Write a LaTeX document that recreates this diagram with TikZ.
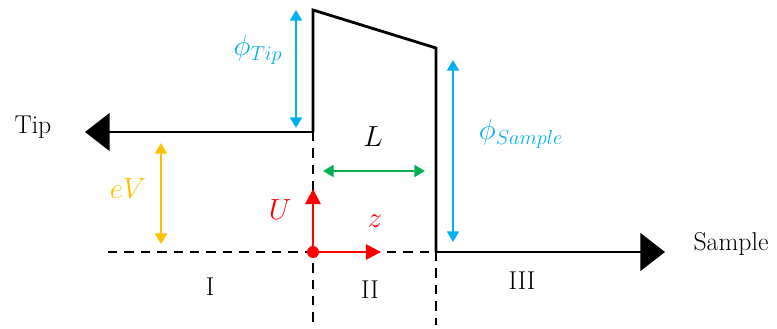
\documentclass[tikz,border=0pt]{standalone}
\usepackage{tikz}
\usetikzlibrary{
    arrows.meta,
    positioning,
    calc
}
\definecolor{phiblue}{RGB}{0,176,240}
\definecolor{evorange}{RGB}{255,192,0}
\definecolor{lgreen}{RGB}{0,176,80}
\definecolor{ured}{RGB}{255,0,0}

\begin{document}
\begin{tikzpicture}[
        x=0.03cm,
        y=-0.03cm,
        line cap=butt,
        line join=miter,
        every node/.style={font=\fontsize{22}{26}\selectfont},
        sym/.style={font=\fontsize{24}{28}\selectfont},
        wall/.style={black,line width=2.4pt},
        grid/.style={black,line width=2.1pt,dash pattern=on 8pt off 6pt},
        lead/.style={black,line width=2.4pt,-{Triangle[length=21pt,width=32pt]}},
        gap/.style={line width=2.1pt,{Triangle[length=9pt,width=10pt]}-{Triangle[length=9pt,width=10pt]}},
        axis/.style={ured,line width=2.4pt,-{Triangle[length=13pt,width=13pt]}}
    ]

        % 边界框
        \useasboundingbox (0,0) rectangle (777,328);

        % 势垒的角点
        \coordinate (T0) at (313,132);
        \coordinate (T1) at (313,10);
        \coordinate (S1) at (436,48);
        \coordinate (S0) at (436,252);
        \coordinate (O) at (313,252);

        % 两端的标签
        \node (tip) at (33,127) {Tip};
        \node (sample) at (731,244) {Sample};
        \coordinate (tipend) at (85,132);
        \coordinate (sampleend) at (665,252);

        % 势垒轮廓
        \draw[wall] (T0) -- (T1) -- (S1) -- (S0);
        \draw[lead] (T0) -- (tipend);
        \draw[lead] (S0) -- (sampleend);

        % 虚线分区
        \coordinate (Lx) at (108,252);
        \coordinate (Ob) at (313,325);
        \coordinate (Sb) at (436,325);
        \draw[grid] (Lx) -- (S0);
        \draw[grid] (T0) -- (Ob);
        \draw[grid] (S0) -- (Sb);

        % 功函数
        \coordinate (pt1) at (296,10);
        \coordinate (pt0) at (296,128);
        \draw[gap,phiblue] (pt1) -- (pt0);
        \node[sym,text=phiblue] (phitip) at (258,50) {$\phi_{Tip}$};

        \coordinate (ps1) at (453,60);
        \coordinate (ps0) at (453,242);
        \draw[gap,phiblue] (ps1) -- (ps0);
        \node[sym,text=phiblue] (phisample) at (521,134) {$\phi_{Sample}$};

        % 势垒宽度
        \coordinate (la) at (323,171);
        \coordinate (lb) at (425,171);
        \draw[gap,lgreen] (la) -- (lb);
        \node[sym] (L) at (373,137) {$L$};

        % 偏压
        \coordinate (ev1) at (161,143);
        \coordinate (ev0) at (161,244);
        \draw[gap,evorange] (ev1) -- (ev0);
        \node[sym,text=evorange] (eV) at (128,189) {$eV$};

        % 坐标轴
        \coordinate (Uend) at (313,189);
        \coordinate (zend) at (381,252);
        \draw[axis] (O) -- (Uend);
        \draw[axis] (O) -- (zend);
        \fill[ured] (O) circle (6);
        \node[sym,text=ured] (U) at (280,210) {$U$};
        \node[sym,text=ured] (z) at (375,221) {$z$};

        % 区域编号
        \node (r1) at (210,287) {I};
        \node (r2) at (370,290) {II};
        \node (r3) at (522,281) {III};

    \end{tikzpicture}
\end{document}
